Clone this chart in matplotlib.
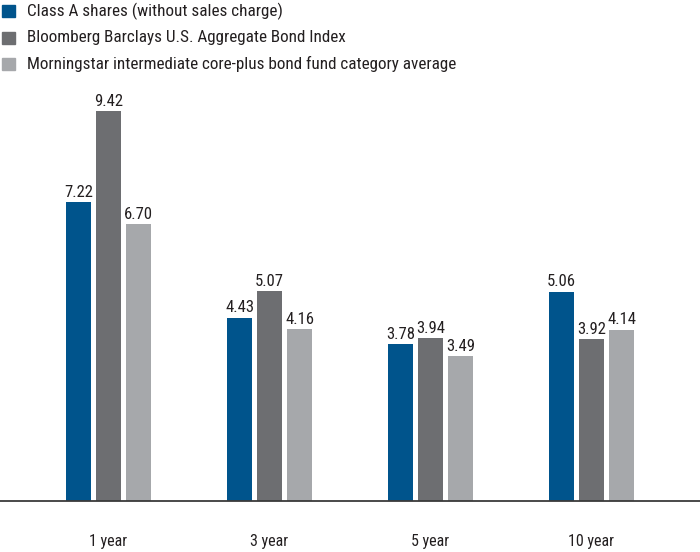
import matplotlib
matplotlib.use("Agg")
import matplotlib.pyplot as plt
from matplotlib.patches import Rectangle
import numpy as np

categories = ["1 year", "3 year", "5 year", "10 year"]
series_names = [
    "Class A shares (without sales charge)",
    "Bloomberg Barclays U.S. Aggregate Bond Index",
    "Morningstar intermediate core-plus bond fund category average",
]
class_a = [7.22, 4.43, 3.78, 5.06]
bloomberg = [9.42, 5.07, 3.94, 3.92]
morningstar = [6.70, 4.16, 3.49, 4.14]
colors = ["#00548C", "#6D6E71", "#A6A8AB"]

plt.rcParams['font.family'] = ['Roboto Condensed', 'Liberation Sans Narrow', 'Roboto', 'DejaVu Sans']

fig = plt.figure(figsize=(7.0, 5.52), dpi=100)
H = 552.0
base_px = 500.5
ppu = 41.3
ymax = 10.0
ax = fig.add_axes([0, (H - base_px) / H, 1, ymax * ppu / H])

spacing = 161.0
x0 = 108.5
ax.set_xlim(-x0 / spacing, (700 - x0) / spacing)
ax.set_ylim(0, ymax)

x = np.arange(len(categories))
w = 25 / spacing
off = 30 / spacing
for i, (vals, c) in enumerate(zip([class_a, bloomberg, morningstar], colors)):
    xs = x + (i - 1) * off
    ax.bar(xs, vals, width=w, color=c, edgecolor='none', zorder=2)
    for xx, v in zip(xs, vals):
        ax.annotate(f"{v:.2f}", (xx, v), xytext=(0, 1.5), textcoords='offset points',
                    ha='center', va='bottom', fontsize=12, color='#231F20')

for s in ['top', 'right', 'left']:
    ax.spines[s].set_visible(False)
ax.spines['bottom'].set_color('#3a3a3a')
ax.spines['bottom'].set_linewidth(1.3)
ax.set_yticks([])
ax.set_xticks(x)
ax.set_xticklabels(categories, fontsize=11.5, color='#231F20')
ax.tick_params(axis='x', length=0, pad=24)

# legend
rows_y = [11, 37.5, 64]
for name, c, yy in zip(series_names, colors, rows_y):
    fig.patches.append(Rectangle((2 / 700, 1 - (yy + 6) / H), 13 / 700, 12 / H,
                                 transform=fig.transFigure, color=c, figure=fig))
    fig.text(27 / 700, 1 - yy / H, name, fontsize=12.3, color='#231F20',
             ha='left', va='center')

fig.savefig("out.png", dpi=100)
